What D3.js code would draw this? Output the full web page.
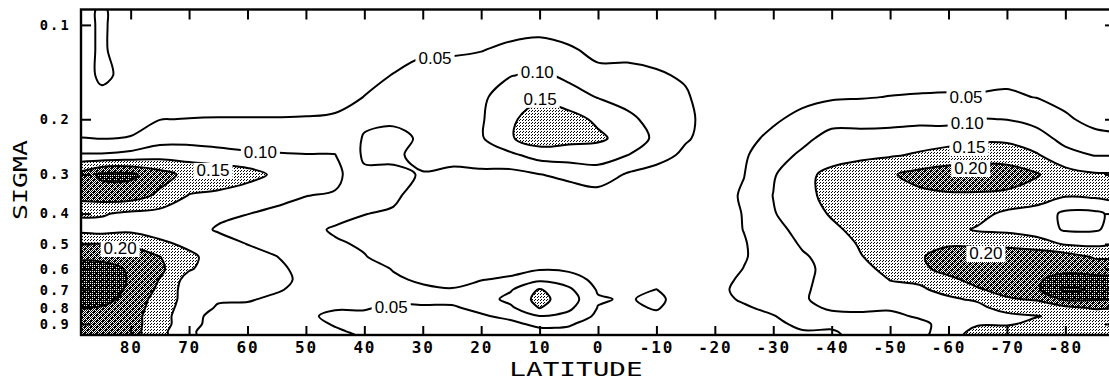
<!DOCTYPE html>
<html>
<head>
<meta charset="utf-8">
<script src="https://cdn.jsdelivr.net/npm/d3@7"></script>
<style>
  html, body { margin: 0; padding: 0; background: #fff; }
  svg { display: block; }
</style>
</head>
<body>
<svg id="chart" width="1109" height="381"></svg>
<script>
// ---- grid coordinates -------------------------------------------------------
const latitudes = [90, 85, 80, 75, 70, 65, 60, 55, 50, 45, 40, 35, 30, 25, 20, 15, 10, 5, 0,
  -5, -10, -15, -20, -25, -30, -35, -40, -45, -50, -55, -60, -65, -70, -75, -80, -85, -90];
const sigmaLevels = [0.09, 0.10, 0.12, 0.145, 0.17, 0.20, 0.23, 0.26, 0.30, 0.35, 0.40, 0.45,
  0.50, 0.55, 0.60, 0.65, 0.70, 0.75, 0.80, 0.85, 0.90, 0.95, 0.98];

// ---- vertical profiles, one per latitude (top sigma level first) -----------
const n90 = [0.02,0.02,0.02,0.02,0.025,0.035,0.048,0.105,0.205,0.215,0.155,0.13,0.201,0.24,0.265,0.28,0.28,0.27,0.245,0.23,0.235,0.23,0.23];
const n85 = [0.058,0.058,0.058,0.058,0.04,0.035,0.048,0.105,0.26,0.225,0.155,0.13,0.201,0.24,0.265,0.28,0.28,0.27,0.245,0.23,0.235,0.23,0.23];
const n80 = [0.02,0.02,0.02,0.038,0.03,0.035,0.052,0.115,0.26,0.225,0.14,0.14,0.19,0.24,0.245,0.245,0.24,0.23,0.225,0.22,0.22,0.22,0.22];
const n75 = [0.02,0.02,0.02,0.025,0.03,0.049,0.08,0.13,0.22,0.19,0.135,0.13,0.16,0.201,0.21,0.198,0.19,0.18,0.175,0.17,0.17,0.165,0.165];
const n70 = [0.02,0.02,0.02,0.02,0.03,0.051,0.08,0.13,0.185,0.148,0.12,0.12,0.14,0.16,0.155,0.13,0.125,0.13,0.125,0.12,0.12,0.11,0.11];
const n65 = [0.02,0.02,0.02,0.02,0.03,0.052,0.075,0.12,0.18,0.14,0.11,0.095,0.12,0.13,0.125,0.12,0.115,0.105,0.095,0.08,0.075,0.07,0.07];
const n60 = [0.02,0.02,0.02,0.025,0.03,0.052,0.07,0.11,0.17,0.12,0.101,0.08,0.099,0.12,0.125,0.12,0.115,0.105,0.09,0.075,0.07,0.065,0.065];
const n55 = [0.02,0.02,0.02,0.025,0.03,0.052,0.07,0.105,0.14,0.115,0.09,0.075,0.085,0.101,0.11,0.112,0.105,0.09,0.075,0.065,0.06,0.06,0.06];
const n50 = [0.02,0.02,0.02,0.025,0.03,0.053,0.07,0.102,0.12,0.101,0.085,0.062,0.07,0.075,0.085,0.09,0.085,0.075,0.065,0.054,0.058,0.06,0.06];
const n45 = [0.02,0.02,0.02,0.025,0.03,0.058,0.08,0.101,0.115,0.095,0.065,0.045,0.055,0.065,0.075,0.08,0.075,0.065,0.052,0.045,0.048,0.053,0.055];
const n40 = [0.02,0.02,0.025,0.035,0.051,0.057,0.047,0.043,0.058,0.065,0.051,0.04,0.045,0.052,0.065,0.07,0.068,0.06,0.052,0.045,0.04,0.045,0.048];
const n35 = [0.02,0.02,0.03,0.052,0.06,0.056,0.04,0.044,0.056,0.058,0.045,0.035,0.03,0.035,0.048,0.055,0.058,0.055,0.045,0.035,0.03,0.03,0.03];
const n30 = [0.015,0.02,0.045,0.062,0.07,0.07,0.055,0.06,0.048,0.03,0.02,0.018,0.02,0.025,0.035,0.045,0.056,0.06,0.045,0.03,0.025,0.025,0.025];
const n25 = [0.015,0.025,0.045,0.065,0.075,0.08,0.08,0.065,0.04,0.025,0.015,0.012,0.012,0.015,0.025,0.04,0.052,0.06,0.045,0.03,0.02,0.02,0.02];
const n20 = [0.015,0.025,0.048,0.075,0.09,0.095,0.095,0.075,0.04,0.022,0.012,0.01,0.01,0.012,0.025,0.048,0.07,0.075,0.06,0.045,0.03,0.02,0.02];
const n15 = [0.015,0.03,0.06,0.098,0.13,0.14,0.145,0.09,0.035,0.02,0.012,0.01,0.012,0.015,0.03,0.06,0.095,0.115,0.09,0.06,0.04,0.025,0.02];
const n10 = [0.02,0.035,0.065,0.11,0.14,0.18,0.18,0.12,0.049,0.025,0.015,0.012,0.015,0.025,0.045,0.09,0.155,0.165,0.152,0.098,0.06,0.04,0.035];
const n05 = [0.015,0.03,0.055,0.09,0.12,0.17,0.165,0.125,0.06,0.03,0.015,0.012,0.014,0.02,0.04,0.075,0.11,0.125,0.11,0.085,0.055,0.04,0.035];
const eq00 = [0.015,0.025,0.04,0.06,0.098,0.14,0.16,0.12,0.08,0.03,0.015,0.01,0.01,0.015,0.025,0.035,0.045,0.055,0.048,0.04,0.03,0.025,0.02];
const s05 = [0.015,0.02,0.04,0.06,0.085,0.11,0.13,0.101,0.045,0.02,0.01,0.01,0.01,0.012,0.015,0.025,0.035,0.045,0.04,0.03,0.025,0.02,0.02];
const s10 = [0.01,0.02,0.035,0.055,0.07,0.085,0.09,0.07,0.03,0.015,0.01,0.01,0.01,0.01,0.015,0.03,0.051,0.062,0.054,0.04,0.03,0.025,0.02];
const s15 = [0.01,0.015,0.03,0.045,0.055,0.06,0.055,0.04,0.02,0.015,0.012,0.012,0.012,0.012,0.015,0.018,0.02,0.025,0.025,0.02,0.02,0.02,0.02];
const s20 = [0.01,0.015,0.02,0.02,0.025,0.03,0.03,0.03,0.032,0.032,0.03,0.03,0.028,0.028,0.03,0.03,0.035,0.038,0.035,0.03,0.025,0.025,0.025];
const s25 = [0.01,0.015,0.02,0.025,0.03,0.035,0.04,0.045,0.049,0.055,0.052,0.051,0.047,0.047,0.051,0.06,0.065,0.055,0.045,0.035,0.03,0.03,0.03];
const s30 = [0.01,0.015,0.02,0.025,0.035,0.045,0.058,0.075,0.095,0.101,0.097,0.085,0.075,0.07,0.07,0.075,0.075,0.07,0.06,0.048,0.04,0.035,0.035];
const s35 = [0.01,0.015,0.02,0.03,0.04,0.06,0.085,0.11,0.14,0.135,0.125,0.115,0.105,0.095,0.092,0.094,0.096,0.097,0.09,0.07,0.06,0.048,0.045];
const s40 = [0.01,0.015,0.02,0.035,0.045,0.08,0.12,0.135,0.16,0.165,0.155,0.14,0.125,0.115,0.11,0.11,0.11,0.11,0.105,0.09,0.065,0.045,0.04];
const s45 = [0.01,0.015,0.025,0.035,0.048,0.075,0.125,0.14,0.175,0.18,0.175,0.165,0.155,0.148,0.135,0.125,0.12,0.115,0.105,0.095,0.08,0.07,0.065];
const s50 = [0.01,0.015,0.025,0.035,0.051,0.08,0.125,0.145,0.195,0.19,0.185,0.18,0.175,0.17,0.165,0.151,0.14,0.13,0.105,0.09,0.08,0.075,0.07];
const s55 = [0.01,0.015,0.025,0.035,0.053,0.085,0.13,0.155,0.215,0.19,0.18,0.18,0.185,0.195,0.19,0.155,0.145,0.135,0.115,0.105,0.09,0.085,0.085];
const s60 = [0.01,0.015,0.025,0.04,0.053,0.085,0.13,0.17,0.225,0.195,0.17,0.165,0.195,0.22,0.215,0.19,0.16,0.145,0.13,0.12,0.115,0.125,0.13];
const s65 = [0.01,0.015,0.025,0.042,0.052,0.102,0.14,0.18,0.225,0.195,0.165,0.145,0.19,0.23,0.23,0.215,0.195,0.155,0.14,0.135,0.145,0.165,0.17];
const s70 = [0.01,0.015,0.025,0.04,0.056,0.099,0.14,0.175,0.225,0.19,0.14,0.14,0.185,0.235,0.24,0.235,0.215,0.195,0.165,0.14,0.145,0.17,0.175];
const s75 = [0.01,0.015,0.025,0.035,0.049,0.085,0.12,0.155,0.205,0.175,0.13,0.125,0.175,0.23,0.235,0.245,0.24,0.205,0.175,0.148,0.16,0.18,0.185];
const s80 = [0.01,0.015,0.02,0.03,0.04,0.055,0.085,0.115,0.17,0.155,0.09,0.095,0.145,0.225,0.24,0.265,0.31,0.26,0.185,0.16,0.17,0.19,0.19];
const s85 = [0.01,0.015,0.02,0.025,0.03,0.04,0.06,0.098,0.155,0.16,0.09,0.095,0.14,0.195,0.23,0.265,0.295,0.255,0.205,0.17,0.17,0.18,0.18];
const s90 = [0.01,0.015,0.02,0.025,0.03,0.035,0.055,0.09,0.155,0.165,0.12,0.12,0.145,0.19,0.225,0.26,0.29,0.248,0.198,0.17,0.17,0.18,0.18];

const profiles = [n90, n85, n80, n75, n70, n65, n60, n55, n50, n45, n40, n35, n30, n25, n20, n15, n10, n05,
  eq00, s05, s10, s15, s20, s25, s30, s35, s40, s45, s50, s55, s60, s65, s70, s75, s80, s85, s90];

// ---- contour levels, shading and labels ------------------------------------
const contourLevels = [0.05, 0.10, 0.15, 0.20, 0.25, 0.30];
const shadedLevels = [0.15, 0.20, 0.25];
const labelTexts = ["0.05", "0.10", "0.15", "0.10", "0.15", "0.20", "0.05",
  "0.05", "0.10", "0.15", "0.20", "0.20"];
const labelLats = [27.9, 10.4, 9.9, 57.8, 65.9, 81.8, 35.4, -63.0, -63.2, -63.5, -63.8, -66.4];
const labelSigmas = [0.127, 0.141, 0.172, 0.254, 0.290, 0.5145, 0.794, 0.1697, 0.2055, 0.245, 0.286, 0.534];

// ---- axes ------------------------------------------------------------------
const latExtent = [88.5, -88.5];
const sigmaExtent = [0.0893, 0.976];
const latTicks = [80, 70, 60, 50, 40, 30, 20, 10, 0, -10, -20, -30, -40, -50, -60, -70, -80];
const latTickLabels = ["80", "70", "60", "50", "40", "30", "20", "10", "0", "-10", "-20", "-30",
  "-40", "-50", "-60", "-70", "-80"];
const sigmaTicks = [0.1, 0.2, 0.3, 0.4, 0.5, 0.6, 0.7, 0.8, 0.9];
const sigmaTickLabels = ["0.1", "0.2", "0.3", "0.4", "0.5", "0.6", "0.7", "0.8", "0.9"];

// ---- layout ----------------------------------------------------------------
const plot = { left: 81, right: 1115, top: 9.5, bottom: 335 };
const svg = d3.select("#chart");

const x = d3.scaleLinear().domain(latExtent).range([plot.left, plot.right]);
const y = d3.scaleLog().domain(sigmaExtent).range([plot.top, plot.bottom]);

// grid index (cell centres at i + 0.5) -> pixel
const gridX = d3.scaleLinear()
  .domain(latitudes.map((d, i) => i + 0.5))
  .range(latitudes.map(d => x(d)));
const gridY = d3.scaleLinear()
  .domain(sigmaLevels.map((d, i) => i + 0.5))
  .range(sigmaLevels.map(d => y(d)));

const defs = svg.append("defs");
defs.append("clipPath").attr("id", "plotClip")
  .append("rect")
  .attr("x", plot.left).attr("y", plot.top)
  .attr("width", plot.right - plot.left).attr("height", plot.bottom - plot.top);

function dotPattern(id, size, dots) {
  const p = defs.append("pattern").attr("id", id)
    .attr("patternUnits", "userSpaceOnUse")
    .attr("width", size).attr("height", size);
  dots.forEach(([dx, dy]) => p.append("rect")
    .attr("x", dx).attr("y", dy).attr("width", 1).attr("height", 1)
    .attr("fill", "#000").attr("shape-rendering", "crispEdges"));
}
dotPattern("stipple15", 3, [[0, 0], [1, 2]]);
dotPattern("stipple20", 2, [[0, 0], [1, 1]]);
dotPattern("stipple25", 2, [[0, 0], [1, 1], [1, 0]]);
const patternFor = { 0.15: "stipple15", 0.2: "stipple20", 0.25: "stipple25" };

// ---- contours --------------------------------------------------------------
const nx = latitudes.length, ny = sigmaLevels.length;
const values = new Array(nx * ny);
for (let j = 0; j < ny; j++)
  for (let i = 0; i < nx; i++)
    values[j * nx + i] = profiles[i][j];

const contours = d3.contours().size([nx, ny]).thresholds(contourLevels)(values);

const ringLine = d3.line().curve(d3.curveCatmullRomClosed.alpha(0.5));
function contourPath(c) {
  let d = "";
  c.coordinates.forEach(polygon => polygon.forEach(ring => {
    const pts = ring.slice(0, -1).map(p => [gridX(p[0]), gridY(p[1])]);
    if (pts.length > 2) d += ringLine(pts);
  }));
  return d;
}

const field = svg.append("g").attr("clip-path", "url(#plotClip)");

field.selectAll("path.shade")
  .data(contours.filter(c => shadedLevels.includes(c.value)))
  .join("path")
  .attr("class", "shade")
  .attr("d", contourPath)
  .attr("fill", d => `url(#${patternFor[d.value]})`)
  .attr("stroke", "none");

field.selectAll("path.iso")
  .data(contours)
  .join("path")
  .attr("class", "iso")
  .attr("d", contourPath)
  .attr("fill", "none")
  .attr("stroke", "#000")
  .attr("stroke-width", 2)
  .attr("stroke-linejoin", "round");

// ---- contour labels --------------------------------------------------------
const labels = svg.append("g");
labelTexts.forEach((t, i) => {
  const g = labels.append("g")
    .attr("transform", `translate(${x(labelLats[i])},${y(labelSigmas[i])})`);
  const rect = g.append("rect").attr("fill", "#fff");
  const text = g.append("text")
    .attr("text-anchor", "middle")
    .attr("dy", "0.36em")
    .attr("font-family", "Liberation Sans, Arial, sans-serif")
    .attr("font-size", 17)
    .attr("fill", "#000")
    .text(t);
  const b = text.node().getBBox();
  rect.attr("x", b.x - 3).attr("y", b.y + 2)
    .attr("width", b.width + 6).attr("height", b.height - 3);
});

// ---- frame and ticks -------------------------------------------------------
const tickFont = g => g.selectAll("text")
  .attr("font-family", "DejaVu Sans Mono, monospace")
  .attr("font-weight", "bold")
  .attr("fill", "#000");
const tickLines = g => g.selectAll(".tick line").attr("stroke", "#000").attr("stroke-width", 2);

svg.append("g")
  .attr("transform", `translate(0,${plot.bottom})`)
  .call(d3.axisBottom(x).tickValues(latTicks).tickSize(-9).tickPadding(7)
    .tickFormat((d, i) => latTickLabels[i]))
  .call(g => g.select(".domain").remove())
  .call(tickLines)
  .call(tickFont)
  .call(g => g.selectAll("text").attr("font-size", 16).attr("letter-spacing", 1.8));

svg.append("g")
  .attr("transform", `translate(0,${plot.top})`)
  .call(d3.axisTop(x).tickValues(latTicks).tickSize(-10).tickFormat(() => ""))
  .call(g => g.select(".domain").remove())
  .call(tickLines);

svg.append("g")
  .attr("transform", `translate(${plot.left},0)`)
  .call(d3.axisLeft(y).tickValues(sigmaTicks).tickSize(-10).tickPadding(10)
    .tickFormat((d, i) => sigmaTickLabels[i]))
  .call(g => g.select(".domain").remove())
  .call(tickLines)
  .call(tickFont)
  .call(g => g.selectAll("text").attr("font-size", 13.7).attr("letter-spacing", 2.2));

svg.append("g")
  .attr("transform", `translate(${plot.right},0)`)
  .call(d3.axisRight(y).tickValues(sigmaTicks).tickSize(-10).tickFormat(() => ""))
  .call(g => g.select(".domain").remove())
  .call(tickLines);

svg.append("rect")
  .attr("x", plot.left).attr("y", plot.top)
  .attr("width", plot.right - plot.left).attr("height", plot.bottom - plot.top)
  .attr("fill", "none").attr("stroke", "#000").attr("stroke-width", 2.4);

// ---- axis titles -----------------------------------------------------------
svg.append("text")
  .attr("transform", "translate(576,376.2) scale(1.37,1)")
  .attr("text-anchor", "middle")
  .attr("font-family", "DejaVu Sans Mono, monospace")
  .attr("font-size", 20.2)
  .attr("fill", "#000")
  .text("LATITUDE");

svg.append("text")
  .attr("transform", "translate(27,180) rotate(-90) scale(1.4,1)")
  .attr("text-anchor", "middle")
  .attr("font-family", "DejaVu Sans Mono, monospace")
  .attr("font-size", 19)
  .attr("fill", "#000")
  .text("SIGMA");
</script>
</body>
</html>
